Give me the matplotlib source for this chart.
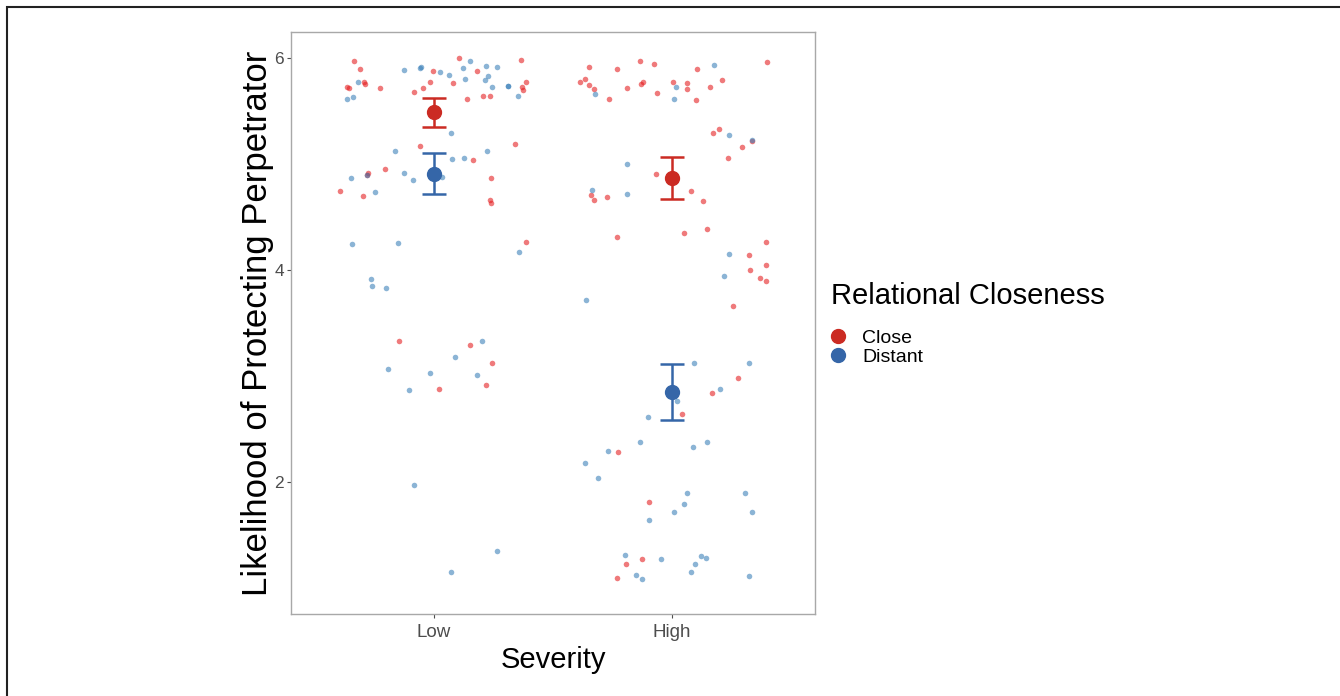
import numpy as np
import matplotlib
matplotlib.use("Agg")
import matplotlib.pyplot as plt
from matplotlib.lines import Line2D
from matplotlib.patches import Rectangle

plt.rcParams['font.family'] = ['Liberation Sans', 'DejaVu Sans']

categories = ['Low', 'High']
groups = ['Close', 'Distant']

# jittered raw responses: (offset from category centre, value)
low_close_dx = [-0.336, -0.310, -0.365, -0.356, -0.292, -0.290, -0.227, -0.003, -0.018, -0.085,
                -0.045, 0.105, 0.179, 0.078, 0.137, 0.205, 0.234, 0.367, 0.386, 0.371,
                0.374, -0.060, 0.339, 0.164, -0.276, -0.280, -0.205, -0.396, -0.297, 0.241,
                0.234, 0.240, 0.385, -0.148, 0.152, 0.243, 0.021, 0.218]
low_close_y = [5.98, 5.90, 5.73, 5.72, 5.78, 5.76, 5.72, 5.88, 5.78, 5.68,
               5.72, 6.00, 5.88, 5.77, 5.62, 5.65, 5.65, 5.99, 5.78, 5.73,
               5.70, 5.17, 5.19, 5.04, 4.92, 4.90, 4.96, 4.75, 4.70, 4.87,
               4.66, 4.63, 4.27, 3.33, 3.29, 3.12, 2.88, 2.91]

low_dist_dx = [-0.364, -0.339, -0.317, -0.124, -0.056, -0.057, 0.025, 0.064, 0.121, 0.151,
               0.219, 0.264, 0.131, 0.215, 0.226, 0.243, 0.310, 0.313, 0.354, 0.070,
               -0.162, 0.221, 0.077, 0.127, -0.350, -0.283, -0.127, -0.088, 0.033, -0.247,
               -0.346, -0.149, 0.357, -0.264, -0.262, -0.200, 0.200, 0.087, -0.195, -0.018,
               0.181, -0.103, -0.084, 0.264, 0.072]
low_dist_y = [5.62, 5.64, 5.78, 5.89, 5.92, 5.91, 5.87, 5.84, 5.91, 5.98,
              5.93, 5.92, 5.81, 5.80, 5.83, 5.73, 5.74, 5.74, 5.65, 5.30,
              5.13, 5.13, 5.05, 5.06, 4.87, 4.90, 4.92, 4.85, 4.88, 4.74,
              4.25, 4.26, 4.17, 3.92, 3.85, 3.83, 3.33, 3.18, 3.07, 3.03,
              3.01, 2.87, 1.97, 1.35, 1.15]

high_close_dx = [-0.350, -0.367, -0.385, -0.347, -0.329, -0.265, -0.230, -0.190, -0.133, -0.078,
                 -0.131, -0.123, -0.063, 0.005, 0.063, 0.061, 0.106, 0.100, 0.158, 0.209,
                 0.397, 0.173, 0.198, 0.293, 0.336, 0.234, -0.066, -0.342, -0.329, -0.272,
                 0.081, 0.130, -0.233, 0.051, 0.148, 0.393, 0.322, 0.393, 0.326, 0.371,
                 0.395, 0.256, 0.275, 0.169, 0.043, -0.227, -0.097, -0.194, -0.126, -0.232]
high_close_y = [5.92, 5.81, 5.78, 5.75, 5.71, 5.62, 5.90, 5.72, 5.98, 5.95,
                5.76, 5.78, 5.67, 5.78, 5.77, 5.71, 5.90, 5.61, 5.73, 5.80,
                5.97, 5.30, 5.33, 5.16, 5.22, 5.06, 4.91, 4.71, 4.66, 4.69,
                4.75, 4.65, 4.31, 4.35, 4.39, 4.27, 4.14, 4.05, 4.00, 3.93,
                3.90, 3.66, 2.98, 2.84, 2.64, 2.28, 1.81, 1.22, 1.27, 1.09]

high_dist_dx = [-0.322, 0.018, 0.007, 0.175, 0.240, 0.336, -0.190, -0.335, -0.188, 0.238,
                0.218, -0.360, 0.091, 0.325, 0.201, 0.020, -0.100, -0.134, -0.271, 0.145,
                0.088, -0.364, -0.311, 0.061, 0.307, 0.050, 0.007, 0.336, -0.095, -0.198,
                -0.045, 0.123, 0.144, 0.095, 0.081, -0.152, -0.127, 0.321]
high_dist_y = [5.66, 5.73, 5.62, 5.94, 5.28, 5.23, 5.00, 4.76, 4.72, 4.15,
               3.94, 3.72, 3.12, 3.12, 2.88, 2.76, 2.61, 2.38, 2.29, 2.38,
               2.33, 2.18, 2.04, 1.89, 1.89, 1.79, 1.71, 1.71, 1.64, 1.31,
               1.27, 1.30, 1.28, 1.22, 1.15, 1.12, 1.08, 1.11]

# group means and standard errors (Low, High)
close_mean = [5.49, 4.87]
close_se = [0.135, 0.195]
distant_mean = [4.91, 2.85]
distant_se = [0.195, 0.265]

red_pt, blue_pt = '#E41A1C', '#377EB8'
red_mean, blue_mean = '#CB2B23', '#3566A8'

fig = plt.figure(figsize=(13.4, 6.96), dpi=100)
ax = fig.add_axes([0.2172, 0.1178, 0.3910, 0.8362])

xpos = np.arange(1, len(categories) + 1)

raw = [
    (xpos[0], low_close_dx, low_close_y, red_pt),
    (xpos[0], low_dist_dx, low_dist_y, blue_pt),
    (xpos[1], high_close_dx, high_close_y, red_pt),
    (xpos[1], high_dist_dx, high_dist_y, blue_pt),
]
for xc, dx, yv, col in raw:
    ax.scatter(xc + np.array(dx), yv, s=16, color=col, alpha=0.58, linewidths=0, zorder=2)

ax.errorbar(xpos, close_mean, yerr=close_se, fmt='o', color=red_mean, ms=10,
            elinewidth=1.8, capsize=8.5, capthick=1.8, zorder=4)
ax.errorbar(xpos, distant_mean, yerr=distant_se, fmt='o', color=blue_mean, ms=10,
            elinewidth=1.8, capsize=8.5, capthick=1.8, zorder=4)

ax.set_xlim(0.4, 2.6)
ax.set_ylim(0.75, 6.25)
ax.set_xticks(xpos)
ax.set_xticklabels(categories)
ax.set_yticks([2, 4, 6])

for sp in ax.spines.values():
    sp.set_color('#A8A8A8')
    sp.set_linewidth(1.0)
ax.tick_params(axis='both', colors='#4D4D4D', length=3, width=0.8)
ax.tick_params(axis='x', labelsize=13.5, pad=4)
ax.tick_params(axis='y', labelsize=12.5, pad=2)

ax.set_xlabel('Severity', fontsize=21, labelpad=4)
ax.set_ylabel('Likelihood of Protecting Perpetrator', fontsize=25, labelpad=0)

# legend: title placed separately so the gap to the keys can be set
fig.text(831 / 1340, 1 - 296 / 696, 'Relational Closeness', fontsize=21,
         ha='left', va='center')
handles = [Line2D([], [], marker='o', ls='', color=red_mean, ms=10),
           Line2D([], [], marker='o', ls='', color=blue_mean, ms=10)]
fig.legend(handles, groups, loc='upper left',
           bbox_to_anchor=(830 / 1340, 1 - 329 / 696), frameon=False, fontsize=14,
           handlelength=0.8, handletextpad=0.85,
           labelspacing=0.1, borderaxespad=0, borderpad=0)

# outer frame of the picture
fig.patches.append(Rectangle((7 / 1340, -0.1), 1.2, 1.1 - 7 / 696, transform=fig.transFigure,
                             fill=False, edgecolor='#222222', linewidth=1.5))

fig.savefig('out.png', dpi=100)
